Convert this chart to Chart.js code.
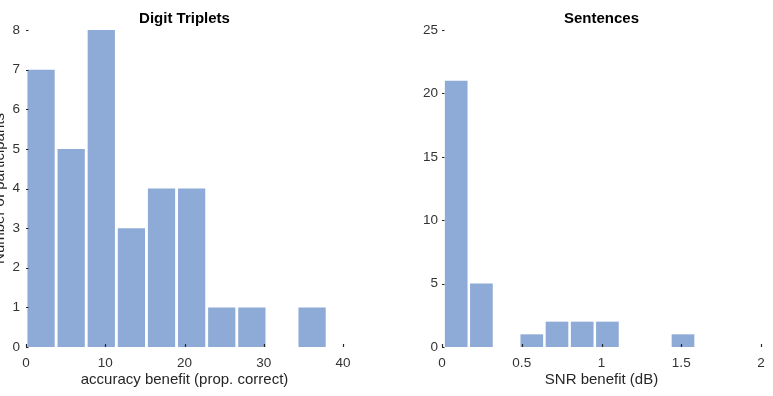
<!DOCTYPE html>
<html>
<head>
<meta charset="utf-8">
<script src="https://cdn.jsdelivr.net/npm/chart.js@4.4.1/dist/chart.umd.min.js"></script>
<style>
  html, body { margin: 0; padding: 0; background: #fff; }
  #wrap { position: relative; width: 773px; height: 396px; }
  canvas { position: absolute; left: 0; top: 0; }
</style>
</head>
<body>
<div id="wrap">
  <canvas id="digitChart" width="773" height="396"></canvas>
  <canvas id="sentenceChart" width="773" height="396"></canvas>
</div>
<script>
// histogram data
const digitBinEdges = [0, 3.8, 7.6, 11.4, 15.2, 19, 22.8, 26.6, 30.4, 34.2, 38];
const digitCounts = [7, 5, 8, 3, 4, 4, 1, 1, 0, 1];
const digitXTicks = [0, 10, 20, 30, 40];
const digitYTicks = [0, 1, 2, 3, 4, 5, 6, 7, 8];

const sentenceBinEdges = [0.01, 0.168, 0.326, 0.484, 0.642, 0.8, 0.958, 1.116, 1.274, 1.432, 1.59];
const sentenceCounts = [21, 5, 0, 1, 2, 2, 2, 0, 0, 1];
const sentenceXTicks = [0, 0.5, 1, 1.5, 2];
const sentenceYTicks = [0, 5, 10, 15, 20, 25];

const barColor = '#8eaad6';
const textColor = '#262626';

Chart.defaults.font.family = '"Liberation Sans", Arial, Helvetica, sans-serif';
Chart.defaults.color = textColor;

function binPoints(edges, counts) {
  return counts.map((c, i) => ({ x: (edges[i] + edges[i + 1]) / 2, y: c }));
}

// MATLAB style tick marks pointing into the axes
const innerTicks = {
  id: 'innerTicks',
  afterDatasetsDraw(chart) {
    const { ctx, chartArea, scales } = chart;
    ctx.save();
    ctx.strokeStyle = textColor;
    ctx.lineWidth = 1.2;
    ctx.beginPath();
    scales.x.ticks.forEach(t => {
      const px = Math.round(scales.x.getPixelForValue(t.value)) + 0.5;
      ctx.moveTo(px, chartArea.bottom);
      ctx.lineTo(px, chartArea.bottom - 3);
    });
    scales.y.ticks.forEach(t => {
      const py = Math.round(scales.y.getPixelForValue(t.value)) + 0.5;
      ctx.moveTo(chartArea.left, py);
      ctx.lineTo(chartArea.left + 2.5, py);
    });
    ctx.stroke();
    ctx.restore();
  }
};

// panel title centred over the plot area
const panelTitle = {
  id: 'panelTitle',
  afterDraw(chart, args, opts) {
    const { ctx, chartArea } = chart;
    ctx.save();
    ctx.font = 'bold 15px "Liberation Sans", Arial, sans-serif';
    ctx.fillStyle = '#000';
    ctx.textAlign = 'center';
    ctx.textBaseline = 'middle';
    ctx.fillText(opts.text, (chartArea.left + chartArea.right) / 2, 19);
    ctx.restore();
  }
};

function makeHist(id, edges, counts, xTicks, yTicks, o) {
  return new Chart(document.getElementById(id), {
    type: 'bar',
    data: {
      datasets: [{
        data: binPoints(edges, counts),
        backgroundColor: barColor,
        borderWidth: 0,
        categoryPercentage: o.barPct,
        barPercentage: 1
      }]
    },
    options: {
      responsive: false,
      animation: false,
      events: [],
      layout: { padding: { left: o.padLeft, right: o.padRight, top: 30, bottom: 0 } },
      plugins: {
        legend: { display: false },
        tooltip: { enabled: false },
        title: { display: false },
        panelTitle: { text: o.title }
      },
      scales: {
        x: {
          type: 'linear',
          offset: false,
          min: xTicks[0],
          max: xTicks[xTicks.length - 1],
          afterBuildTicks: s => { s.ticks = xTicks.map(v => ({ value: v })); },
          afterFit: s => { s.height = 49; },
          grid: { display: false, drawTicks: false },
          border: { display: false },
          ticks: { font: { size: 13.5 }, padding: 8, color: '#333', maxRotation: 0, callback: v => String(v) },
          title: { display: true, text: o.xTitle, font: { size: 15 }, color: textColor, padding: { top: 0, bottom: 7 } }
        },
        y: {
          min: yTicks[0],
          max: yTicks[yTicks.length - 1],
          afterBuildTicks: s => { s.ticks = yTicks.map(v => ({ value: v })); },
          afterFit: s => { s.width = 26; },
          grid: { display: false, drawTicks: false },
          border: { display: false },
          ticks: { font: { size: 13.5 }, padding: o.yPad, color: '#333', callback: v => String(v) },
          title: { display: !!o.yTitle, text: o.yTitle, font: { size: 15 }, color: textColor, padding: { top: -9, bottom: 0 } }
        }
      }
    },
    plugins: [innerTicks, panelTitle]
  });
}

makeHist('digitChart', digitBinEdges, digitCounts, digitXTicks, digitYTicks, {
  title: 'Digit Triplets',
  xTitle: 'accuracy benefit (prop. correct)',
  yTitle: 'Number of participants',
  padLeft: 0, padRight: 430, yPad: 6, barPct: 0.905
});

makeHist('sentenceChart', sentenceBinEdges, sentenceCounts, sentenceXTicks, sentenceYTicks, {
  title: 'Sentences',
  xTitle: 'SNR benefit (dB)',
  yTitle: '',
  padLeft: 416, padRight: 12, yPad: 4, barPct: 0.9
});
</script>
</body>
</html>
